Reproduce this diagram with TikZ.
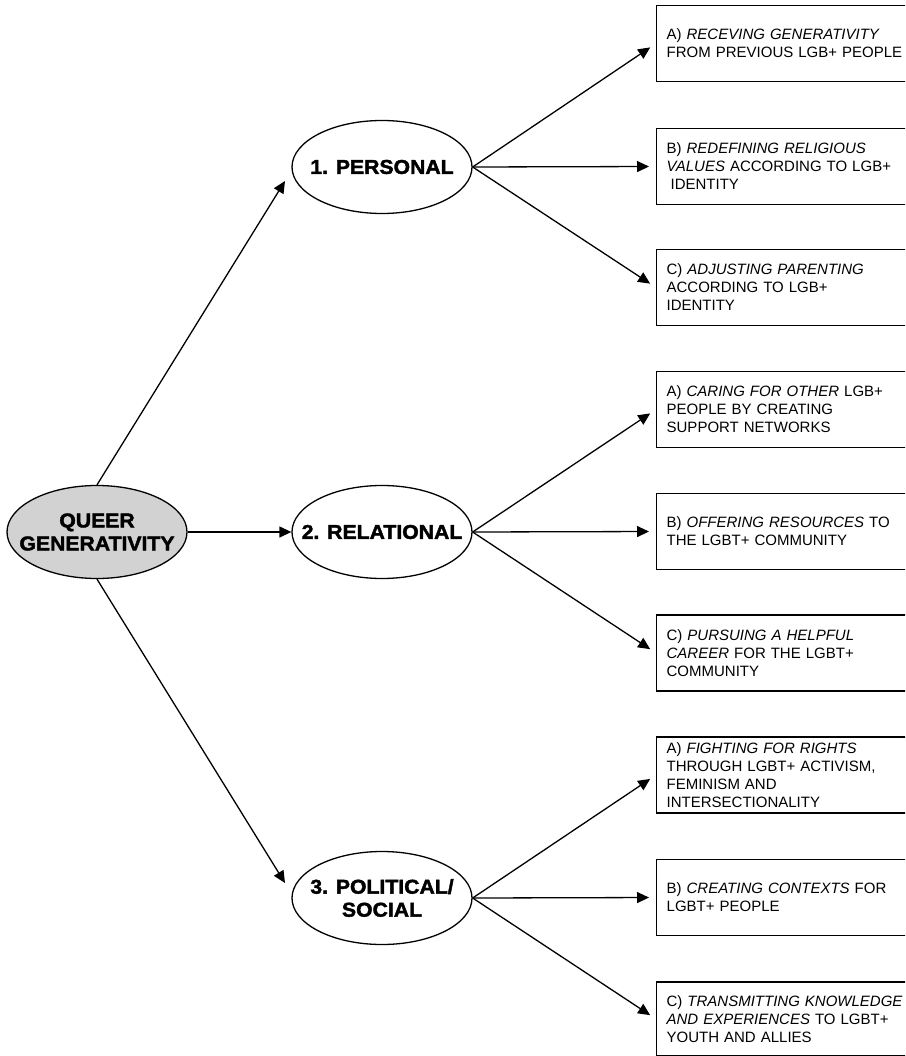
\documentclass[tikz,border=0pt]{standalone}
\usepackage{fontspec}
\setmainfont{Liberation Sans}
\newfontfamily\heavyfont[FakeStretch=1.06,FakeBold=2]{Liberation Sans}
\usetikzlibrary{shapes.geometric,arrows.meta}
\begin{document}
\begin{tikzpicture}[x=1pt,y=-1pt,
  oval/.style={draw,ellipse,line width=1.3pt,minimum width=180pt,minimum height=93pt,inner sep=0pt},
  ovaltext/.style={font=\heavyfont\bfseries\fontsize{20}{23}\selectfont,align=center,inner sep=0pt},
  itembox/.style={draw,rectangle,line width=1.3pt,anchor=west,text width=240pt,inner xsep=10pt,inner ysep=0pt,minimum height=76pt,align=left,font=\fontsize{15}{18}\selectfont},
  conn/.style={line width=1.3pt,-{Triangle[length=12pt,width=11pt]}}
]
\clip (0,0) rectangle (905,1056);
\useasboundingbox (0,0) rectangle (905,1056);
\fill[white] (0,0) rectangle (905,1056);

% ellipses
\node[oval,fill={rgb,255:red,210;green,210;blue,210}] (q) at (97,532) {};
\node[ovaltext] (qt) at (q) {QUEER\\GENERATIVITY};
\node[oval] (p) at (382,167) {};
\node[ovaltext] (pt) at (p) {1. PERSONAL};
\node[oval] (r) at (382,532) {};
\node[ovaltext] (rt) at (r) {2. RELATIONAL};
\node[oval] (s) at (382,898) {};
\node[ovaltext] (st) at (s) {3. POLITICAL/\\SOCIAL};

% boxes
\node[itembox] (a1) at (656,43.5) {A) \textit{RECEVING GENERATIVITY}\\FROM PREVIOUS LGB+ PEOPLE};
\node[itembox] (b1) at (656,166.5) {B) \textit{REDEFINING RELIGIOUS}\\\textit{VALUES} ACCORDING TO LGB+\\\hspace*{4pt}IDENTITY};
\node[itembox] (c1) at (656,287.5) {C) \textit{ADJUSTING PARENTING}\\ACCORDING TO LGB+\\IDENTITY};
\node[itembox] (a2) at (656,409.5) {A) \textit{CARING FOR OTHER} LGB+\\PEOPLE BY CREATING\\SUPPORT NETWORKS};
\node[itembox] (b2) at (656,531.5) {B) \textit{OFFERING RESOURCES} TO\\THE LGBT+ COMMUNITY};
\node[itembox] (c2) at (656,653) {C) \textit{PURSUING A HELPFUL}\\\textit{CAREER} FOR THE LGBT+\\COMMUNITY};
\node[itembox] (a3) at (656,775) {A) \textit{FIGHTING FOR RIGHTS}\\THROUGH LGBT+ ACTIVISM,\\FEMINISM AND\\INTERSECTIONALITY};
\node[itembox] (b3) at (656,897.5) {B) \textit{CREATING CONTEXTS} FOR\\LGBT+ PEOPLE};
\node[itembox,minimum height=74pt] (c3) at (656,1019) {C) \textit{TRANSMITTING KNOWLEDGE}\\\textit{AND EXPERIENCES} TO LGBT+\\YOUTH AND ALLIES};

% tips
\coordinate (tp) at (285,181);
\coordinate (ts) at (285,883);

% connectors
\draw[conn] (q.north) -- (tp);
\draw[conn] (q.east) -- (r.west);
\draw[conn] (q.south) -- (ts);

\foreach \src/\a/\b/\c in {p/a1/b1/c1, r/a2/b2/c2, s/a3/b3/c3}{
  \draw[conn,shorten >=7pt] (\src.east) -- (\a.west);
  \draw[conn,shorten >=7pt] (\src.east) -- (\b.west);
  \draw[conn,shorten >=7pt] (\src.east) -- (\c.west);
}
\end{tikzpicture}
\end{document}
